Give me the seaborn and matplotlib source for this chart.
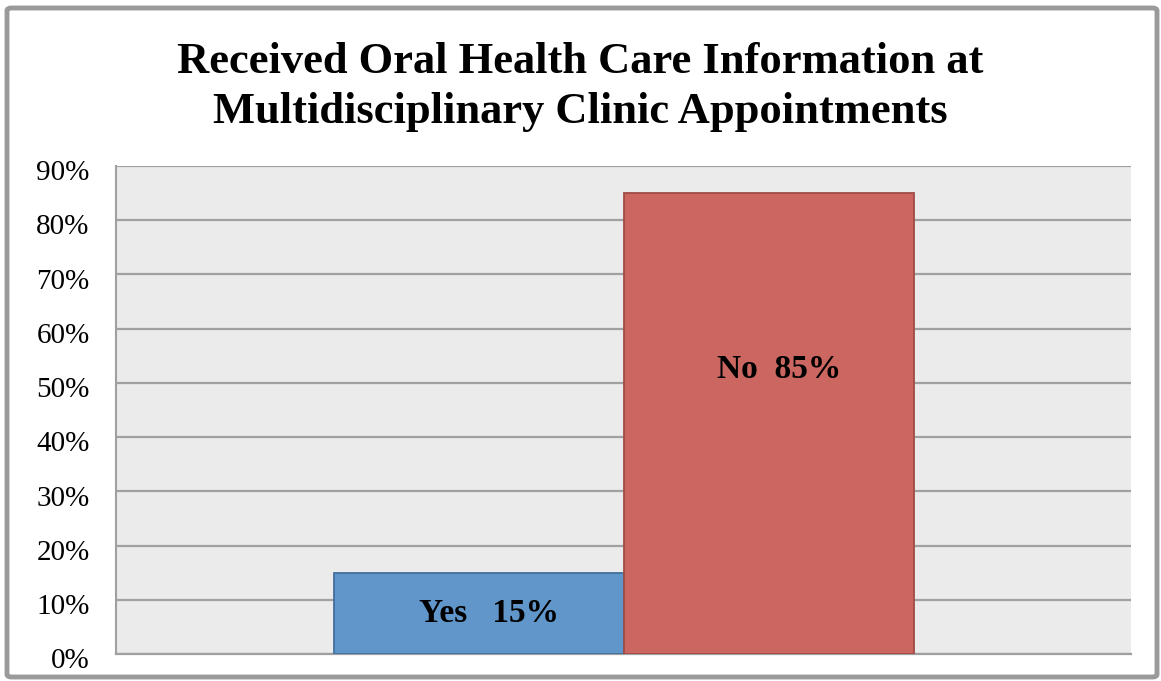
import matplotlib
matplotlib.use("Agg")
import matplotlib.pyplot as plt
import matplotlib.patches as mpatches
import matplotlib.transforms as mtransforms
import seaborn as sns
import pandas as pd

# ---- data ----
answers = ["Yes", "No"]
percents = [15, 85]
label_texts = ["Yes   15%", "No  85%"]
label_y = [7.5, 52.5]
y_ticks = [0, 10, 20, 30, 40, 50, 60, 70, 80, 90]
y_tick_labels = [f"{t}%" for t in y_ticks]
title = "Received Oral Health Care Information at\nMultidisciplinary Clinic Appointments"

bar_colors = ["#6196CA", "#CC6660"]
edge_colors = ["#41709C", "#A14B47"]

df = pd.DataFrame({"group": [""] * len(answers), "answer": answers, "pct": percents})

sns.set_theme(style="white")
plt.rcParams["font.family"] = ["Liberation Serif", "DejaVu Serif"]

fig = plt.figure(figsize=(11.61, 6.81), dpi=100)
ax = fig.add_axes([116 / 1161, 1 - 654 / 681, (1131 - 116) / 1161, (654 - 166) / 681])

sns.barplot(data=df, x="group", y="pct", hue="answer", hue_order=answers,
            palette=bar_colors, saturation=1, width=580 / 1015, ax=ax, legend=False,
            linewidth=1.3, zorder=3)
for p, ec in zip(ax.patches, edge_colors):
    p.set_edgecolor(ec)

ax.set_xlim(-0.5, 0.5)
ax.set_ylim(0, 90)
ax.set_facecolor("#EBEBEB")
ax.set_yticks(y_ticks)
ax.set_yticklabels(y_tick_labels, fontsize=21, color="black")
ax.tick_params(axis="y", length=0, pad=19)
shift = mtransforms.ScaledTranslation(0, -3 / 72, fig.dpi_scale_trans)
for lbl in ax.get_yticklabels():
    lbl.set_transform(lbl.get_transform() + shift)
ax.set_xticks([])
ax.set_xlabel("")
ax.set_ylabel("")
ax.yaxis.grid(True, color="#A0A0A0", linewidth=1.6, zorder=0)
ax.set_axisbelow(True)
for s in ["top", "right"]:
    ax.spines[s].set_visible(False)
ax.spines["left"].set_color("#A0A0A0")
ax.spines["left"].set_linewidth(1.5)
ax.spines["bottom"].set_color("#A0A0A0")
ax.spines["bottom"].set_linewidth(1.6)

for p, txt, ly in zip(ax.patches, label_texts, label_y):
    cx = p.get_x() + p.get_width() / 2
    ax.text(cx + 0.01, ly, txt, ha="center", va="center", fontsize=24,
            fontweight="bold", color="black", zorder=5)

fig.text(0.5, 1 - 87 / 681, title, ha="center", va="center", fontsize=32,
         fontweight="bold", linespacing=1.32, color="black")

frame = mpatches.FancyBboxPatch((7 / 1161, 1 - 677 / 681), (1157 - 7) / 1161, (677 - 8) / 681,
                                boxstyle="round,pad=0,rounding_size=0.004",
                                transform=fig.transFigure, fill=False,
                                edgecolor="#9A9A9A", linewidth=3.5)
fig.patches.append(frame)

fig.savefig("out.png", dpi=100)
